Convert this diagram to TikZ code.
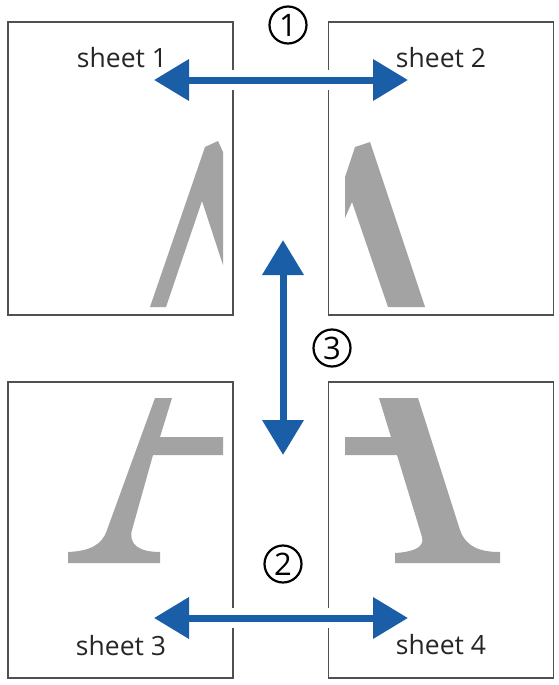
\documentclass[tikz,border=0pt]{standalone}
\usepackage{fontspec}
\setmainfont{Open Sans}
\usetikzlibrary{arrows.meta}
\definecolor{arrowblue}{HTML}{1A5EA8}
\definecolor{lettergray}{HTML}{A3A3A3}
\definecolor{edgegray}{HTML}{505050}
\begin{document}
\begin{tikzpicture}[x=1pt,y=-1pt,
  sheetbox/.style={draw=edgegray, line width=1.5pt, fill=white, inner sep=0pt, minimum width=225pt},
  sheetlabel/.style={anchor=base, inner sep=0pt, text=black!85, font=\fontsize{26.5}{30}\selectfont},
  stepnum/.style={circle, draw=black, line width=2.2pt, minimum size=37pt, inner sep=0pt, font=\fontsize{31}{31}\selectfont},
  halo/.style={white, line width=20pt, shorten <=36pt, shorten >=36pt},
  bluearrow/.style={arrowblue, line width=7pt, {Triangle[length=35pt,width=40pt]}-{Triangle[length=35pt,width=40pt]}},
  letterpart/.style={fill=lettergray}
]
\useasboundingbox (0,0) rectangle (559,685);
% sheets
\node[sheetbox, minimum height=293pt] (s1) at (120.5,168.5) {};
\node[sheetbox, minimum height=293pt] (s2) at (441,168.5) {};
\node[sheetbox, minimum height=296pt] (s3) at (120.5,530) {};
\node[sheetbox, minimum height=296pt] (s4) at (441,530) {};
% letter parts
\fill[letterpart] (150,307) -- (205,147) -- (218,141) -- (223,152) -- (223,265) -- (202,201) -- (166,307) -- cycle;
\fill[letterpart] (355,147) -- (370,142) -- (425,307) -- (388,307) -- (352,202) -- (345,218) -- (345,177) -- cycle;
\fill[letterpart] (155,398) -- (172,398) -- (160,437) -- (223,437) -- (223,455) -- (153,455) -- (132,530)
  .. controls (128,545) and (140,552) .. (160,552) -- (160,563) -- (68,563) -- (68,552)
  .. controls (90,551) and (102,545) .. (107,530) -- cycle;
\fill[letterpart] (379,398) -- (418,398) -- (460,530) .. controls (466,547) and (480,552) .. (500,552)
  -- (500,563) -- (395,563) -- (395,553) .. controls (412,552) and (425,548) .. (422,537)
  -- (397,455) -- (345,455) -- (345,437) -- (391,437) -- cycle;
% labels
\node[sheetlabel] (l1) at (122,67) {sheet 1};
\node[sheetlabel] (l2) at (441,67) {sheet 2};
\node[sheetlabel] (l3) at (121,655) {sheet 3};
\node[sheetlabel] (l4) at (441,654) {sheet 4};
% arrows
\coordinate (a1l) at (154,80);
\coordinate (a1r) at (408,80);
\coordinate (a2l) at (154,618);
\coordinate (a2r) at (408,618);
\coordinate (a3t) at (283,240);
\coordinate (a3b) at (283,455);
\draw[halo] (a1l) -- (a1r);
\draw[halo] (a2l) -- (a2r);
\draw[bluearrow] (a1l) -- (a1r);
\draw[bluearrow] (a2l) -- (a2r);
\draw[bluearrow] (a3t) -- (a3b);
% step numbers
\node[stepnum] (n1) at (288,25) {1};
\node[stepnum] (n3) at (332,348) {3};
\node[stepnum] (n2) at (283,564) {2};
\end{tikzpicture}
\end{document}
